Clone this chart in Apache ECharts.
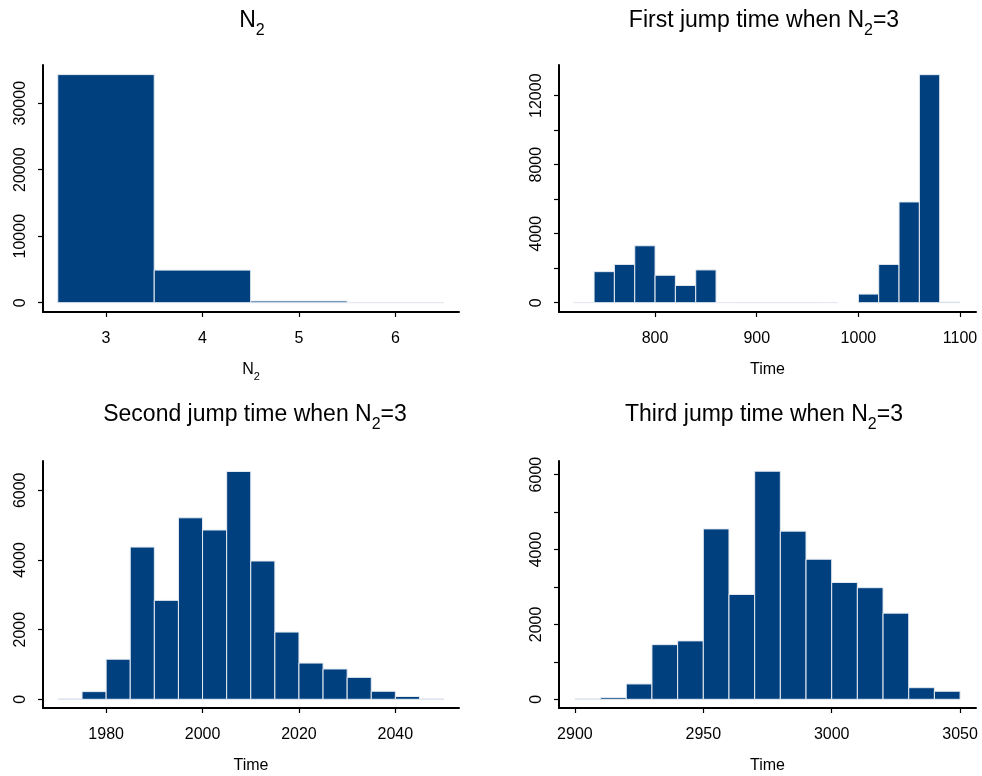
<!DOCTYPE html>
<html><head><meta charset="utf-8">
<script src="https://cdn.jsdelivr.net/npm/echarts@6/dist/echarts.min.js"></script>
<style>html,body{margin:0;padding:0;background:#fff}#c{width:982px;height:776px}</style>
</head><body><div id="c"></div>
<script>
// ---------- DATA ----------
// Panel 1: N2 distribution (bins of width 1 centred on integers)
const n2BinStart = [2.5, 3.5, 4.5, 5.5];
const n2BinWidth = 1;
const n2Counts = [34300, 4900, 250, 15];
const n2XTicks = [3, 4, 5, 6];
const n2YTicks = [0, 10000, 20000, 30000];
const n2YLabels = [0, 10000, 20000, 30000];

// Panel 2: first jump time when N2=3
const firstBinStart = [720, 740, 760, 780, 800, 820, 840, 860, 880, 900, 920, 940, 960, 980, 1000, 1020, 1040, 1060, 1080];
const firstBinWidth = 20;
const firstCounts = [15, 1800, 2220, 3300, 1590, 1000, 1900, 10, 8, 8, 8, 8, 10, 0, 500, 2220, 5840, 13220, 40];
const firstXTicks = [800, 900, 1000, 1100];
const firstYTicks = [0, 2000, 4000, 6000, 8000, 10000, 12000];
const firstYLabels = [0, 4000, 8000, 12000];

// Panel 3: second jump time when N2=3
const secondBinStart = [1970, 1975, 1980, 1985, 1990, 1995, 2000, 2005, 2010, 2015, 2020, 2025, 2030, 2035, 2040, 2045];
const secondBinWidth = 5;
const secondCounts = [10, 220, 1150, 4370, 2840, 5210, 4860, 6540, 3970, 1930, 1040, 870, 630, 230, 80, 10];
const secondXTicks = [1980, 2000, 2020, 2040];
const secondYTicks = [0, 2000, 4000, 6000];
const secondYLabels = [0, 2000, 4000, 6000];

// Panel 4: third jump time when N2=3
const thirdBinStart = [2900, 2910, 2920, 2930, 2940, 2950, 2960, 2970, 2980, 2990, 3000, 3010, 3020, 3030, 3040];
const thirdBinWidth = 10;
const thirdCounts = [10, 45, 410, 1460, 1560, 4550, 2800, 6090, 4490, 3740, 3120, 2980, 2300, 310, 215];
const thirdXTicks = [2900, 2950, 3000, 3050];
const thirdYTicks = [0, 1000, 2000, 3000, 4000, 5000, 6000];
const thirdYLabels = [0, 2000, 4000, 6000];

// ---------- CHART ----------
const FONT = '"Liberation Sans", Arial, sans-serif';
const BAR = '#00407f';
const chart = echarts.init(document.getElementById('c'), null, {renderer: 'canvas'});

function bins(starts, width, counts) {
  return starts.map((s, i) => [s, s + width, counts[i]]);
}
const panels = [
  {start: n2BinStart, w: n2BinWidth, c: n2Counts, xt: n2XTicks, yt: n2YTicks, yl: n2YLabels,
   grid: {left: 43, top: 65, width: 416, height: 247}, xr: [2.347, 6.66], yr: [-1398, 35744], name: '{n|N}{s|2}',
   title: '{n|N}{s|2}', tx: 252, ty: 9},
  {start: firstBinStart, w: firstBinWidth, c: firstCounts, xt: firstXTicks, yt: firstYTicks, yl: firstYLabels,
   grid: {left: 559, top: 65, width: 417, height: 247}, xr: [705.5, 1115.7], yr: [-539, 13780], name: 'Time',
   title: '{n|First jump time when N}{s|2}{n|=3}', tx: 764, ty: 9},
  {start: secondBinStart, w: secondBinWidth, c: secondCounts, xt: secondXTicks, yt: secondYTicks, yl: secondYLabels,
   grid: {left: 43, top: 461, width: 416, height: 247}, xr: [1966.9, 2053.2], yr: [-250, 6841], name: 'Time',
   title: '{n|Second jump time when N}{s|2}{n|=3}', tx: 255, ty: 403},
  {start: thirdBinStart, w: thirdBinWidth, c: thirdCounts, xt: thirdXTicks, yt: thirdYTicks, yl: thirdYLabels,
   grid: {left: 559, top: 461, width: 417, height: 247}, xr: [2893.8, 3056.2], yr: [-232, 6363], name: 'Time',
   title: '{n|Third jump time when N}{s|2}{n|=3}', tx: 764, ty: 403}
];

const titleRich = {
  n: {fontSize: 23, fontFamily: FONT, color: '#000', lineHeight: 30, verticalAlign: 'top'},
  s: {fontSize: 16, fontFamily: FONT, color: '#000', lineHeight: 12, verticalAlign: 'bottom'}
};
const nameRich = {
  n: {fontSize: 16, fontFamily: FONT, color: '#000', lineHeight: 20, verticalAlign: 'top'},
  s: {fontSize: 11, fontFamily: FONT, color: '#000', lineHeight: 8, verticalAlign: 'bottom'}
};
const plain = v => String(Math.round(v));

const option = {
  animation: false,
  backgroundColor: '#fff',
  title: panels.map(p => ({
    text: p.title, left: p.tx, top: p.ty, textAlign: 'center', padding: 0,
    textStyle: {rich: titleRich, fontFamily: FONT, fontSize: 23, fontWeight: 'normal', color: '#000'}
  })),
  grid: panels.map(p => Object.assign({containLabel: false}, p.grid)),
  xAxis: panels.map((p, i) => ({
    type: 'value', gridIndex: i, min: p.xr[0], max: p.xr[1],
    name: p.name, nameLocation: 'middle', nameGap: 50,
    nameTextStyle: {rich: nameRich, fontFamily: FONT, fontSize: 16, color: '#000'},
    axisLine: {show: true, onZero: false, lineStyle: {color: '#000', width: 2}},
    axisTick: {show: true, length: 5, customValues: p.xt, lineStyle: {color: '#000', width: 1.2}},
    axisLabel: {customValues: p.xt, formatter: plain, margin: 19, fontSize: 16, fontFamily: FONT, color: '#000'},
    splitLine: {show: false}
  })),
  yAxis: panels.map((p, i) => ({
    type: 'value', gridIndex: i, min: p.yr[0], max: p.yr[1],
    axisLine: {show: true, onZero: false, lineStyle: {color: '#000', width: 2}},
    axisTick: {show: true, length: 5, customValues: p.yt, lineStyle: {color: '#000', width: 1.2}},
    axisLabel: {customValues: p.yl, formatter: plain, rotate: 90, margin: 14, fontSize: 16, fontFamily: FONT, color: '#000'},
    splitLine: {show: false}
  })),
  series: panels.map((p, i) => ({
    type: 'custom', xAxisIndex: i, yAxisIndex: i,
    data: bins(p.start, p.w, p.c),
    renderItem: function (params, api) {
      const v = api.value(2);
      if (!(v > 0)) return null;
      const p0 = api.coord([api.value(0), 0]);
      const p1 = api.coord([api.value(1), v]);
      return {
        type: 'rect',
        shape: {x: p0[0], y: p1[1], width: p1[0] - p0[0], height: p0[1] - p1[1]},
        style: {fill: BAR, stroke: '#e6ebf2', lineWidth: 1}
      };
    }
  }))
};
chart.setOption(option);
</script></body></html>
